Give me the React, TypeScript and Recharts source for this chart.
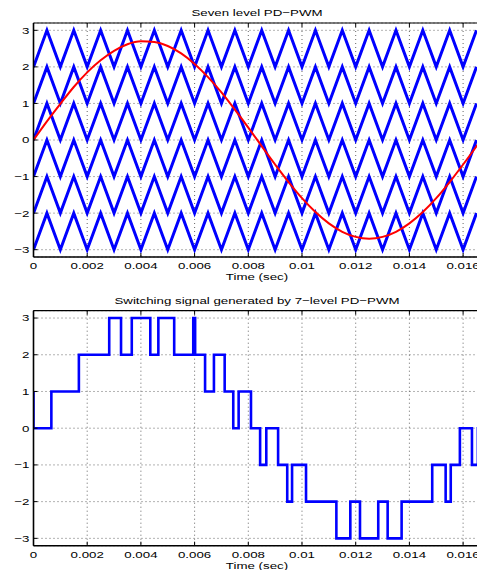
import React from 'react';
import { LineChart, Line, XAxis, YAxis, CartesianGrid, ReferenceLine } from 'recharts';

// ---------- data ----------
const carrierTimes = [
  0, 0.0005, 0.001, 0.0015, 0.002, 0.0025, 0.003, 0.0035, 0.004, 0.0045,
  0.005, 0.0055, 0.006, 0.0065, 0.007, 0.0075, 0.008, 0.0085, 0.009, 0.0095,
  0.01, 0.0105, 0.011, 0.0115, 0.012, 0.0125, 0.013, 0.0135, 0.014, 0.0145,
  0.015, 0.0155, 0.016, 0.0165,
];
// 0 = carrier at its lower level (trough), 1 = at its upper level (peak)
const carrierPhase = [
  0, 1, 0, 1, 0, 1, 0, 1, 0, 1,
  0, 1, 0, 1, 0, 1, 0, 1, 0, 1,
  0, 1, 0, 1, 0, 1, 0, 1, 0, 1,
  0, 1, 0, 1,
];
const carrierLows = [-3, -2, -1, 0, 1, 2];

const sineTimes = [...carrierTimes, 0.0166667];
const sineValues = [
  0, 0.51, 0.99, 1.45, 1.85, 2.18, 2.44, 2.62, 2.7, 2.68,
  2.57, 2.37, 2.08, 1.72, 1.3, 0.83, 0.34, -0.17, -0.67, -1.15,
  -1.59, -1.97, -2.28, -2.51, -2.65, -2.7, -2.65, -2.51, -2.28, -1.97,
  -1.59, -1.15, -0.67, -0.17, 0,
];

const switchTimes = [
  0, 0, 0.000665, 0.00169, 0.00282, 0.00326, 0.00366, 0.00435, 0.00465, 0.00524,
  0.00595, 0.00602, 0.00639, 0.00672, 0.00712, 0.00744, 0.00764, 0.0081, 0.00844, 0.00867,
  0.00911, 0.00945, 0.00963, 0.01015, 0.01128, 0.0118, 0.01216, 0.01284, 0.01319, 0.01371,
  0.01485, 0.01535, 0.01554, 0.01588, 0.01633, 0.01655, 0.0166667,
];
const switchLevels = [
  1, 0, 1, 2, 3, 2, 3, 2, 3, 2,
  3, 2, 1, 2, 1, 0, 1, 0, -1, 0,
  -1, -2, -1, -2, -3, -2, -3, -2, -3, -2,
  -1, -2, -1, 0, -1, 0, 0,
];

const xTicks = [0, 0.002, 0.004, 0.006, 0.008, 0.01, 0.012, 0.014, 0.016];
const xTickLabels = ['0', '0.002', '0.004', '0.006', '0.008', '0.01', '0.012', '0.014', '0.016'];
const yTicks = [-3, -2, -1, 0, 1, 2, 3];
const yTickLabels = ['\u22123', '\u22122', '\u22121', '0', '1', '2', '3'];

const topTitle = 'Seven level PD\u2212PWM';
const bottomTitle = 'Switching signal generated by 7\u2212level PD\u2212PWM';
const xLabel = 'Time (sec)';

// ---------- table building ----------
const topData = sineTimes.map((t, i) => {
  const row: Record<string, number> = { t, ref: sineValues[i] };
  if (i < carrierTimes.length) {
    carrierLows.forEach((low, k) => {
      row['c' + k] = low + carrierPhase[i];
    });
  }
  return row;
});
const bottomData = switchTimes.map((t, i) => ({ t, v: switchLevels[i] }));

// ---------- styling ----------
const FONT = '"Liberation Sans", Arial, Helvetica, sans-serif';
const FS = 9.5;
const SX = 1.4;

const SText = ({ x, y, anchor, children }: any) => (
  <text
    transform={`translate(${x},${y}) scale(${SX},1)`}
    x={0}
    y={0}
    textAnchor={anchor}
    fontFamily={FONT}
    fontSize={FS}
    fill="#000"
  >
    {children}
  </text>
);

const makeXTick = (plotTop: number) => (props: any) => {
  const { x, y, payload } = props;
  const idx = xTicks.findIndex((v) => Math.abs(v - payload.value) < 1e-9);
  const label = idx >= 0 ? xTickLabels[idx] : '';
  return (
    <g>
      <line x1={x} y1={y} x2={x} y2={y - 4} stroke="#000" strokeWidth={1} />
      <line x1={x} y1={plotTop} x2={x} y2={plotTop + 4} stroke="#000" strokeWidth={1} />
      <SText x={x} y={y + 12} anchor="middle">{label}</SText>
    </g>
  );
};

const YTick = (props: any) => {
  const { x, y, payload } = props;
  const idx = yTicks.findIndex((v) => Math.abs(v - payload.value) < 1e-9);
  const label = idx >= 0 ? yTickLabels[idx] : '';
  return (
    <g>
      <line x1={x} y1={y} x2={x + 4} y2={y} stroke="#000" strokeWidth={1} />
      <SText x={x - 4} y={y + 3.4} anchor="end">{label}</SText>
    </g>
  );
};

const CHART_W = 490;
const TOP_H = 290;
const TOP_MARGIN = { top: 23, right: 9, bottom: 3, left: 0 };
const BOT_H = 280;
const BOT_MARGIN = { top: 20.7, right: 9, bottom: 0, left: 0 };
const carrierColors = ['#0000ff', '#0000ff', '#0000ff', '#0000ff', '#0000ff', '#0000ff'];

const gridProps = { stroke: '#555', strokeDasharray: '1 3', strokeWidth: 0.9 };

export default function App() {
  return (
    <div
      style={{
        position: 'absolute',
        left: 0,
        top: 0,
        width: 477,
        height: 570,
        overflow: 'hidden',
        background: '#fff',
      }}
    >
      <div style={{ position: 'absolute', left: 0, top: 0 }}>
        <LineChart width={CHART_W} height={TOP_H} data={topData} margin={TOP_MARGIN}>
          <CartesianGrid {...gridProps} />
          <XAxis
            dataKey="t"
            type="number"
            domain={[0, 0.0166667]}
            ticks={xTicks}
            allowDataOverflow
            height={30}
            tickSize={0}
            tickMargin={0}
            tickLine={false}
            tick={makeXTick(TOP_MARGIN.top)}
            axisLine={{ stroke: '#000', strokeWidth: 1.6 }}
          />
          <YAxis
            type="number"
            domain={[-3.2, 3.2]}
            ticks={yTicks}
            allowDataOverflow
            width={33.5}
            tickSize={0}
            tickMargin={0}
            tickLine={false}
            tick={<YTick />}
            axisLine={{ stroke: '#000', strokeWidth: 1.6 }}
          />
          <ReferenceLine y={3.2} stroke="#000" strokeWidth={1.2} />
          {carrierLows.map((_, k) => (
            <Line
              key={k}
              dataKey={'c' + k}
              type="linear"
              stroke={carrierColors[k]}
              strokeWidth={3}
              dot={false}
              activeDot={false}
              isAnimationActive={false}
            />
          ))}
          <Line
            dataKey="ref"
            type="monotone"
            stroke="#ff0000"
            strokeWidth={2}
            dot={false}
            activeDot={false}
            isAnimationActive={false}
          />
        </LineChart>
      </div>
      <div style={{ position: 'absolute', left: 0, top: 290 }}>
        <LineChart width={CHART_W} height={BOT_H} data={bottomData} margin={BOT_MARGIN}>
          <CartesianGrid {...gridProps} />
          <XAxis
            dataKey="t"
            type="number"
            domain={[0, 0.0166667]}
            ticks={xTicks}
            allowDataOverflow
            height={24.3}
            tickSize={0}
            tickMargin={0}
            tickLine={false}
            tick={makeXTick(BOT_MARGIN.top)}
            axisLine={{ stroke: '#000', strokeWidth: 1.6 }}
          />
          <YAxis
            type="number"
            domain={[-3.2, 3.2]}
            ticks={yTicks}
            allowDataOverflow
            width={33.5}
            tickSize={0}
            tickMargin={0}
            tickLine={false}
            tick={<YTick />}
            axisLine={{ stroke: '#000', strokeWidth: 1.6 }}
          />
          <ReferenceLine y={3.2} stroke="#000" strokeWidth={1.2} />
          <Line
            dataKey="v"
            type="stepAfter"
            stroke="#0000ff"
            strokeWidth={2.6}
            dot={false}
            activeDot={false}
            isAnimationActive={false}
          />
        </LineChart>
      </div>
      <svg
        width={477}
        height={570}
        style={{ position: 'absolute', left: 0, top: 0, pointerEvents: 'none' }}
      >
        <SText x={257} y={16} anchor="middle">{topTitle}</SText>
        <SText x={257} y={279.5} anchor="middle">{xLabel}</SText>
        <SText x={257} y={304} anchor="middle">{bottomTitle}</SText>
        <SText x={257} y={568.5} anchor="middle">{xLabel}</SText>
      </svg>
    </div>
  );
}
